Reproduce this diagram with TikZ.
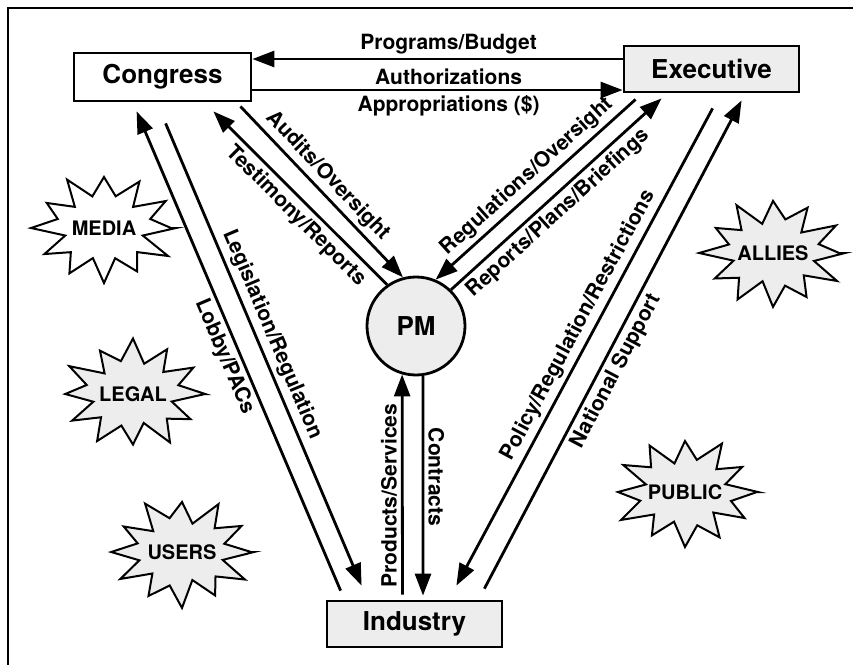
\documentclass[tikz,border=0pt]{standalone}
\usepackage{fontspec}
\setmainfont{TeX Gyre Heros}
\usetikzlibrary{arrows.meta,calc}

\begin{document}
\begin{tikzpicture}[x=1pt,y=-1pt,
  box/.style={draw,line width=2.8pt,fill=white,minimum width=177pt,minimum height=48pt,inner sep=0pt,font=\fontsize{26}{26}\selectfont\bfseries},
  grain/.style={fill=black!7},
  spike/.style={draw,line width=2pt,line join=miter},
  burstlbl/.style={inner sep=0pt,font=\fontsize{20}{20}\selectfont\bfseries},
  arr/.style={line width=2.8pt,-{Triangle[length=22pt,width=16pt]}},
  lbl/.style={font=\fontsize{21}{21}\selectfont\bfseries,inner sep=4pt}]
\useasboundingbox (0,0) rectangle (853,665);
\draw[line width=2.6pt] (853,8) -- (8,8) -- (8,665);

\node[box] (congress) at (162.5,77) {Congress};
\node[box,grain,minimum width=175pt,minimum height=46pt] (executive) at (711.5,69) {Executive};
\node[box,grain,minimum width=175pt,minimum height=46pt] (industry) at (414.5,624) {Industry};
\node[circle,draw,line width=2.8pt,grain,minimum size=98pt,inner sep=0pt,font=\fontsize{26}{26}\selectfont\bfseries] (pm) at (416,326) {PM};

\foreach \n/\x/\y/\t/\f in {media/104/228/MEDIA/white,legal/133/394/LEGAL/black!7,users/182/552/USERS/black!7,allies/773/253/ALLIES/black!7,public/685/492/PUBLIC/black!7}{
  \filldraw[spike,fill=\f] ($(\x,\y)+(0:72 and 55)$)
    \foreach \a in {30,60,...,360}{ -- ($(\x,\y)+({\a-15}:{44+4*sin(5*\a+\x)} and {32+3*sin(5*\a+\x)})$) -- ($(\x,\y)+(\a:{70+4*sin(7*\a+\y)} and {53+3*sin(7*\a+\y)})$)} -- cycle;
  \node[burstlbl] (\n) at (\x,\y) {\t};
}

\draw[arr] (executive.west |- 0,59) -- node[lbl,above,pos=0.47]{Programs/Budget} (congress.east |- 0,59);
\draw[arr] (congress.east |- 0,90) -- node[lbl,above,pos=0.53]{Authorizations} node[lbl,below,pos=0.53]{Appropriations (\$)} (executive.west |- 0,90);

\draw[arr] ($(industry.north west)+(15,-9)$) -- node[lbl,sloped,below,pos=0.5]{Lobby/PACs} ($(congress.south west)+(64,9)$);
\draw[arr] ($(congress.south west)+(93,21)$) -- node[lbl,sloped,above,pos=0.47]{Legislation/Regulation} ($(industry.north west)+(36,-14)$);

\draw[arr] ($(congress.south east)+(-12,4)$) -- node[lbl,sloped,above,pos=0.47]{Audits/Oversight} (pm.105);
\draw[arr] (pm.125) -- node[lbl,sloped,below,pos=0.46]{Testimony/Reports} ($(congress.south east)+(-39,9)$);

\draw[arr] ($(executive.south west)+(13,6)$) -- node[lbl,sloped,above,pos=0.49]{Regulations/Oversight} (pm.67);
\draw[arr] (pm.46) -- node[lbl,sloped,below,pos=0.46]{Reports/Plans/Briefings} ($(executive.south west)+(39,5)$);

\draw[arr] ($(executive.south west)+(90,15)$) -- node[lbl,sloped,above,pos=0.47]{Policy/Regulation/Restrictions} ($(industry.north east)+(-47,-14)$);
\draw[arr] ($(industry.north east)+(-19,-11)$) -- node[lbl,sloped,below,pos=0.46]{National Support} ($(executive.south west)+(119,7)$);

\draw[arr] ($(industry.north)+(-12,-5)$) -- node[lbl,rotate=90,anchor=south,pos=0.45]{Products/Services} (pm.254);
\draw[arr] (pm.278) -- node[lbl,rotate=-90,anchor=south,pos=0.46]{Contracts} ($(industry.north)+(8.5,-4)$);
\end{tikzpicture}
\end{document}
